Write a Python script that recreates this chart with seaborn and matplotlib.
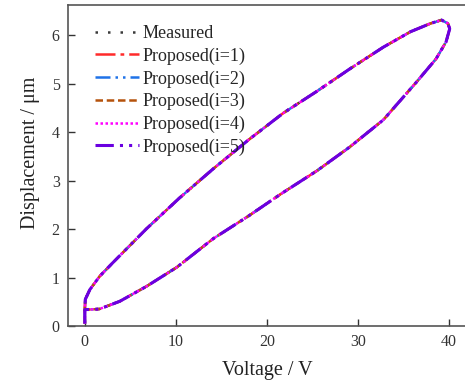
import numpy as np
import pandas as pd
import matplotlib
matplotlib.use("Agg")
import matplotlib.pyplot as plt
import seaborn as sns

# hysteresis loop (voltage in V, displacement in um)
voltage = [0, 0, 0.5, 1.6, 3.85, 6.8, 10.1, 14.1, 18.0, 21.6, 25.5, 29.1, 32.8,
           36.4, 38.6, 39.7, 40.1, 39.9, 39.2, 38.0, 35.8, 32.8, 29.1, 25.5,
           21.8, 18.0, 14.1, 10.4, 6.8, 4.95, 3.1, 1.65, 0.55, 0.05, 0]
displacement = [0.05, 0.34, 0.34, 0.35, 0.51, 0.82, 1.21, 1.80, 2.27, 2.73, 3.20,
                3.69, 4.25, 5.02, 5.51, 5.86, 6.13, 6.24, 6.31, 6.24, 6.07, 5.75,
                5.30, 4.84, 4.39, 3.84, 3.24, 2.64, 2.01, 1.66, 1.31, 1.03, 0.75,
                0.55, 0.35]

series = ["Measured", "Proposed(i=1)", "Proposed(i=2)", "Proposed(i=3)",
          "Proposed(i=4)", "Proposed(i=5)"]
colors = ["#3a3a3a", "#ff2a2a", "#1f72e8", "#b5520c", "#ff00ff", "#6a00e0"]
styles = [(0, (1, 4)), (0, (8, 2, 1.5, 2)), (0, (6, 2, 1, 2, 1, 2)),
          (0, (3, 1.5)), (0, (1, 1)), (0, (6, 2, 1, 2, 1, 2))]
widths = [1.8, 1.8, 1.8, 1.8, 1.8, 2.2]


def main():
    sns.set_style("ticks")
    plt.rcParams["font.family"] = ["Liberation Serif", "DejaVu Serif"]

    fig = plt.figure(figsize=(4.65, 3.81), dpi=100)
    ax = fig.add_axes([68 / 465, 55 / 381, 399 / 465, 321 / 381])

    for name, c, ls, lw in zip(series, colors, styles, widths):
        df = pd.DataFrame({"V": voltage, "D": displacement})
        sns.lineplot(data=df, x="V", y="D", sort=False, estimator=None, ax=ax,
                     color=c, linestyle=ls, linewidth=lw, label=name)

    ax.set_xlim(-1.85, 42)
    ax.set_ylim(0, 6.62)
    ax.set_xticks([0, 10, 20, 30, 40])
    ax.set_yticks([0, 1, 2, 3, 4, 5, 6])
    ax.tick_params(direction="in", length=5, width=1, labelsize=11.5,
                   colors="#333333", pad=6)
    for s in ax.spines.values():
        s.set_color("#555555")
        s.set_linewidth(1.2)
    ax.set_xlabel("Voltage / V", fontsize=14.5, color="#222222")
    ax.set_ylabel("Displacement / μm", fontsize=14.5, color="#222222")
    ax.xaxis.set_label_coords(0.5, -0.11)
    ax.yaxis.set_label_coords(-0.07, 0.54)

    ax.legend(loc="upper left", bbox_to_anchor=(0.05, 0.96), frameon=False,
              fontsize=13, handlelength=2.4, handletextpad=0.2,
              labelspacing=0.3, borderaxespad=0)

    fig.savefig("out.png", dpi=100)


if __name__ == "__main__":
    main()
